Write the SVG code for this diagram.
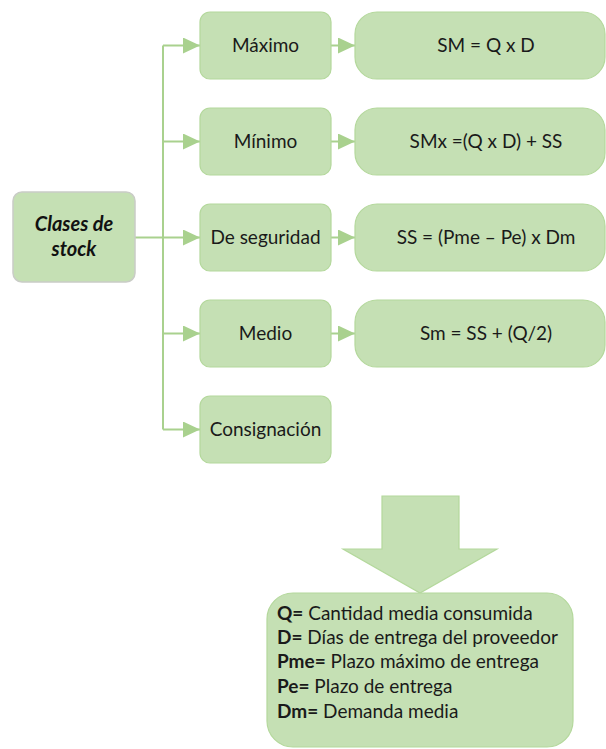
<svg xmlns="http://www.w3.org/2000/svg" width="606" height="749" viewBox="0 0 606 749">
  <style>
    .box { fill: #C5E0B4; stroke: #B4D89C; stroke-width: 1.2; }
    .root { fill: #C5E0B4; stroke: #C9CCC6; stroke-width: 1.5; }
    .lbl { font-family: Lato, "Liberation Sans", sans-serif; font-size: 19px; fill: #1a1a1a; text-anchor: middle; }
    .root-lbl { font-family: Lato, "Liberation Sans", sans-serif; font-size: 20px; font-weight: bold; font-style: italic; fill: #111; text-anchor: middle; }
    .legend { font-family: Lato, "Liberation Sans", sans-serif; font-size: 19px; fill: #1a1a1a; }
    .legend .k { font-weight: bold; }
    .wire { fill: none; stroke: #A9D18E; stroke-width: 2; }
    .head { fill: #A9D18E; }
  </style>
  <defs>
    <marker id="tri" viewBox="0 0 17 16" refX="17" refY="8" markerWidth="17" markerHeight="16" markerUnits="userSpaceOnUse" orient="auto">
      <path class="head" d="M0,0 L17,8 L0,16 Z"/>
    </marker>
  </defs>

  <!-- connectors -->
  <g id="connectors">
    <path class="wire" d="M135,237.5 H163"/>
    <path class="wire" d="M163,45.5 V429.5"/>
    <path class="wire" d="M163,45.5 H200" marker-end="url(#tri)"/>
    <path class="wire" d="M163,141.5 H200" marker-end="url(#tri)"/>
    <path class="wire" d="M163,237.5 H200" marker-end="url(#tri)"/>
    <path class="wire" d="M163,333.5 H200" marker-end="url(#tri)"/>
    <path class="wire" d="M163,429.5 H200" marker-end="url(#tri)"/>
    <path class="wire" d="M331,45.5 H355" marker-end="url(#tri)"/>
    <path class="wire" d="M331,141.5 H355" marker-end="url(#tri)"/>
    <path class="wire" d="M331,237.5 H355" marker-end="url(#tri)"/>
    <path class="wire" d="M331,333.5 H355" marker-end="url(#tri)"/>
  </g>

  <!-- root -->
  <g id="clases">
    <rect class="root" x="13" y="192" width="122" height="90" rx="9"/>
    <text class="root-lbl" x="74" y="231">Clases de</text>
    <text class="root-lbl" x="74" y="256">stock</text>
  </g>

  <!-- stock classes -->
  <g id="maximo">
    <rect class="box" x="200" y="12" width="131" height="67" rx="10"/>
    <text class="lbl" x="265.5" y="52">Máximo</text>
  </g>
  <g id="minimo">
    <rect class="box" x="200" y="108" width="131" height="67" rx="10"/>
    <text class="lbl" x="265.5" y="148">Mínimo</text>
  </g>
  <g id="seguridad">
    <rect class="box" x="200" y="204" width="131" height="67" rx="10"/>
    <text class="lbl" x="265.5" y="244">De seguridad</text>
  </g>
  <g id="medio">
    <rect class="box" x="200" y="300" width="131" height="67" rx="10"/>
    <text class="lbl" x="265.5" y="340">Medio</text>
  </g>
  <g id="consignacion">
    <rect class="box" x="200" y="396" width="131" height="67" rx="10"/>
    <text class="lbl" x="265.5" y="436">Consignación</text>
  </g>

  <!-- formulas -->
  <g id="f-maximo">
    <rect class="box" x="355" y="12" width="250" height="67" rx="22"/>
    <text class="lbl" x="486" y="52">SM = Q x D</text>
  </g>
  <g id="f-minimo">
    <rect class="box" x="355" y="108" width="250" height="67" rx="22"/>
    <text class="lbl" x="486" y="148">SMx =(Q x D) + SS</text>
  </g>
  <g id="f-seguridad">
    <rect class="box" x="355" y="204" width="250" height="67" rx="22"/>
    <text class="lbl" x="486" y="244">SS = (Pme – Pe) x Dm</text>
  </g>
  <g id="f-medio">
    <rect class="box" x="355" y="300" width="250" height="67" rx="22"/>
    <text class="lbl" x="486" y="340">Sm = SS + (Q/2)</text>
  </g>

  <!-- block arrow -->
  <g id="flecha">
    <path class="box" d="M382,496 H459 V549 H497 L420,593 L343,549 H382 Z"/>
  </g>

  <!-- legend -->
  <g id="leyenda">
    <rect class="box" x="267" y="593" width="306" height="154" rx="26"/>
    <text class="legend" x="277" y="620"><tspan class="k">Q=</tspan> Cantidad media consumida</text>
    <text class="legend" x="277" y="644"><tspan class="k">D=</tspan> Días de entrega del proveedor</text>
    <text class="legend" x="277" y="668"><tspan class="k">Pme=</tspan> Plazo máximo de entrega</text>
    <text class="legend" x="277" y="693"><tspan class="k">Pe=</tspan> Plazo de entrega</text>
    <text class="legend" x="277" y="718"><tspan class="k">Dm=</tspan> Demanda media</text>
  </g>
</svg>
